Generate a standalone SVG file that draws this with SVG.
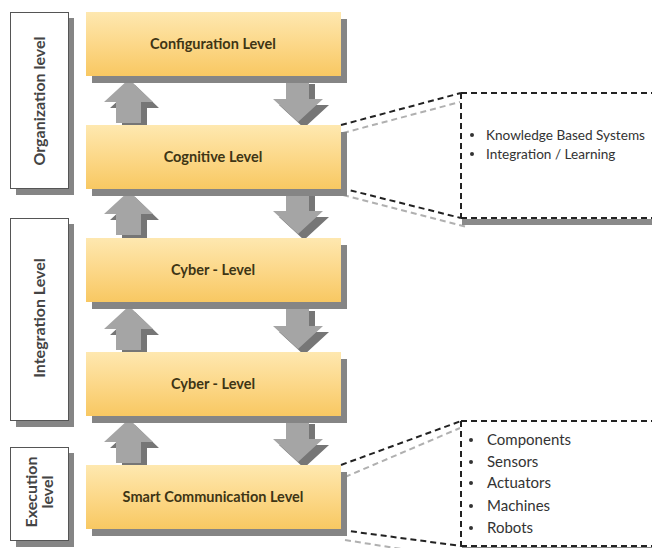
<svg xmlns="http://www.w3.org/2000/svg" xmlns:xlink="http://www.w3.org/1999/xlink" width="652" height="548" viewBox="0 0 652 548">
<style>
.lvl{fill:url(#yg)}
.sh{fill:#858585}
.side{fill:#fff;stroke:#555;stroke-width:1}
.lt{font-family:Lato,"Liberation Sans",sans-serif;font-size:14.5px;font-weight:bold;fill:#3e3515;text-anchor:middle}
.vt{font-family:Lato,"Liberation Sans",sans-serif;font-size:16px;font-weight:bold;fill:#444;text-anchor:middle}
.it{font-family:Lato,"Liberation Sans",sans-serif;font-size:15px;fill:#333}
.it2{font-family:Lato,"Liberation Sans",sans-serif;font-size:13.6px;fill:#333}
.bl{fill:#333}
.dk{fill:none;stroke:#222;stroke-width:2;stroke-dasharray:6 4}
.lg{fill:none;stroke:#b0b0b0;stroke-width:2;stroke-dasharray:6 4}
.ar{fill:#a5a5a5}
.as{fill:#767676}
</style>
<defs>
<linearGradient id="yg" x1="0" y1="0" x2="0" y2="1">
<stop offset="0" stop-color="#fee8b0"/>
<stop offset="0.5" stop-color="#fcd889"/>
<stop offset="1" stop-color="#f8c862"/>
</linearGradient>
<g id="arrows">
<polygon class="as" points="135,85 159,108 147,108 147,129 122,129 122,108 110,108"/>
<polygon class="ar" points="129,79 153,102 141,102 141,123 116,123 116,102 104,102"/>
<polygon class="as" points="292,84 315,84 315,105 329,105 304,128 279,105 292,105"/>
<polygon class="ar" points="286,78 309,78 309,99 323,99 298,122 273,99 286,99"/>
</g>
</defs>

<g id="side-organization">
<rect class="sh" x="16" y="18" width="58" height="177"/>
<rect class="side" x="10.5" y="12.5" width="58" height="176"/>
<text class="vt" transform="translate(45,101) rotate(-90)">Organization level</text>
</g>
<g id="side-integration">
<rect class="sh" x="16" y="224" width="58" height="203"/>
<rect class="side" x="10.5" y="218.5" width="58" height="202"/>
<text class="vt" transform="translate(45,318) rotate(-90)">Integration Level</text>
</g>
<g id="side-execution">
<rect class="sh" x="16" y="453" width="58" height="94"/>
<rect class="side" x="10.5" y="447.5" width="58" height="93"/>
<text class="vt" transform="translate(37,492) rotate(-90)">Execution</text>
<text class="vt" transform="translate(53,492) rotate(-90)">level</text>
</g>

<g id="connectors">
<use xlink:href="#arrows"/>
<use xlink:href="#arrows" transform="translate(0,112)"/>
<use xlink:href="#arrows" transform="translate(0,227)"/>
<use xlink:href="#arrows" transform="translate(0,340)"/>
<polyline class="lg" points="343,133 460,102"/>
<polyline class="lg" points="343,195 467,227"/>
<polyline class="dk" points="341,125 461,93"/>
<polyline class="dk" points="341,188 461,218"/>
<polyline class="lg" points="345,477 460,428"/>
<polyline class="lg" points="345,540 420,552"/>
<polyline class="dk" points="341,465 461,421"/>
<polyline class="dk" points="341,530 461,546"/>
</g>

<g id="configuration">
<rect class="sh" x="92" y="19" width="255" height="64"/>
<rect class="lvl" x="86" y="12" width="255" height="64"/>
<text class="lt" x="213" y="49">Configuration Level</text>
</g>
<g id="cognitive">
<rect class="sh" x="92" y="132" width="255" height="64"/>
<rect class="lvl" x="86" y="125" width="255" height="64"/>
<text class="lt" x="213" y="162">Cognitive Level</text>
</g>
<g id="cyber1">
<rect class="sh" x="92" y="245" width="255" height="64"/>
<rect class="lvl" x="86" y="238" width="255" height="64"/>
<text class="lt" x="213" y="275">Cyber - Level</text>
</g>
<g id="cyber2">
<rect class="sh" x="92" y="359" width="255" height="64"/>
<rect class="lvl" x="86" y="352" width="255" height="64"/>
<text class="lt" x="213" y="389">Cyber - Level</text>
</g>
<g id="smart">
<rect class="sh" x="92" y="472" width="255" height="64"/>
<rect class="lvl" x="86" y="465" width="255" height="64"/>
<text class="lt" x="213" y="502">Smart Communication Level</text>
</g>

<g id="callout-cognitive">
<rect x="462" y="219" width="200" height="6" fill="#8a8a8a"/>
<rect x="461" y="93" width="200" height="125" fill="#fff"/>
<line class="dk" x1="461" y1="93" x2="652" y2="93" stroke-width="2.5"/>
<line class="dk" x1="461" y1="93" x2="461" y2="218" stroke-width="1.5"/>
<line class="dk" x1="461" y1="218" x2="652" y2="218" stroke-width="2.5"/>
<circle class="bl" cx="472" cy="135" r="2"/>
<text class="it2" x="486" y="140">Knowledge Based Systems</text>
<circle class="bl" cx="472" cy="154" r="2"/>
<text class="it2" x="486" y="159">Integration / Learning</text>
</g>

<g id="callout-smart">
<rect x="462" y="547" width="200" height="4" fill="#8a8a8a"/>
<rect x="461" y="421" width="200" height="125" fill="#fff"/>
<line class="dk" x1="461" y1="421" x2="652" y2="421" stroke-width="2.5"/>
<line class="dk" x1="461" y1="421" x2="461" y2="546" stroke-width="1.5"/>
<line class="dk" x1="461" y1="546" x2="652" y2="546" stroke-width="2.5"/>
<circle class="bl" cx="471" cy="440" r="2"/>
<text class="it" x="487" y="445">Components</text>
<circle class="bl" cx="471" cy="462" r="2"/>
<text class="it" x="487" y="467">Sensors</text>
<circle class="bl" cx="471" cy="483" r="2"/>
<text class="it" x="487" y="488">Actuators</text>
<circle class="bl" cx="471" cy="506" r="2"/>
<text class="it" x="487" y="511">Machines</text>
<circle class="bl" cx="471" cy="528" r="2"/>
<text class="it" x="487" y="533">Robots</text>
</g>
</svg>
